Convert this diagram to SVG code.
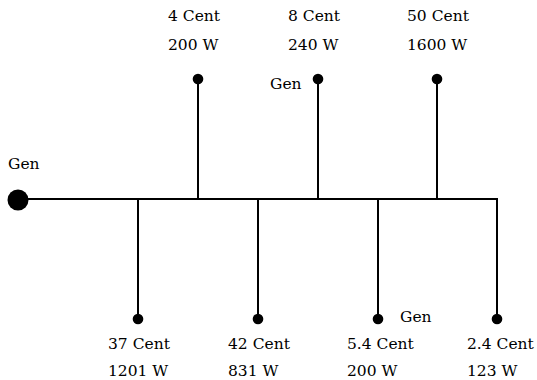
<svg xmlns="http://www.w3.org/2000/svg" width="537" height="380" viewBox="0 0 537 380">
  <style>
    .bus { stroke: #000; stroke-width: 2; fill: none; }
    .dot { fill: #000; }
    .lbl { font-family: "DejaVu Serif", "Liberation Serif", serif; font-size: 15.5px; fill: #000; }
  </style>
  <rect width="537" height="380" fill="#fff"/>

  <!-- bus bar and feeder lines -->
  <g id="connectors">
    <line class="bus" x1="18" y1="199" x2="498" y2="199"/>
    <line class="bus" x1="198" y1="199" x2="198" y2="79"/>
    <line class="bus" x1="318" y1="199" x2="318" y2="79"/>
    <line class="bus" x1="437" y1="199" x2="437" y2="79"/>
    <line class="bus" x1="138" y1="199" x2="138" y2="319"/>
    <line class="bus" x1="258" y1="199" x2="258" y2="319"/>
    <line class="bus" x1="378" y1="199" x2="378" y2="319"/>
    <line class="bus" x1="497" y1="198" x2="497" y2="319"/>
  </g>

  <!-- main generator -->
  <g id="gen-main">
    <circle class="dot" cx="18" cy="200" r="10.5"/>
    <text class="lbl" x="8" y="169">Gen</text>
  </g>

  <!-- upper loads -->
  <g id="load-4">
    <circle class="dot" cx="198" cy="79" r="5.3"/>
    <text class="lbl" x="168" y="21">4 Cent</text>
    <text class="lbl" x="168" y="50">200 W</text>
  </g>
  <g id="load-8">
    <circle class="dot" cx="318" cy="79" r="5.3"/>
    <text class="lbl" x="288" y="21">8 Cent</text>
    <text class="lbl" x="288" y="50">240 W</text>
    <text class="lbl" x="270" y="89">Gen</text>
  </g>
  <g id="load-50">
    <circle class="dot" cx="437" cy="79" r="5.3"/>
    <text class="lbl" x="407" y="21">50 Cent</text>
    <text class="lbl" x="407" y="50">1600 W</text>
  </g>

  <!-- lower loads -->
  <g id="load-37">
    <circle class="dot" cx="138" cy="319" r="5.3"/>
    <text class="lbl" x="108" y="349">37 Cent</text>
    <text class="lbl" x="108" y="376">1201 W</text>
  </g>
  <g id="load-42">
    <circle class="dot" cx="258" cy="319" r="5.3"/>
    <text class="lbl" x="228" y="349">42 Cent</text>
    <text class="lbl" x="228" y="376">831 W</text>
  </g>
  <g id="load-5-4">
    <circle class="dot" cx="378" cy="319" r="5.3"/>
    <text class="lbl" x="347" y="349">5.4 Cent</text>
    <text class="lbl" x="347" y="376">200 W</text>
    <text class="lbl" x="400" y="322">Gen</text>
  </g>
  <g id="load-2-4">
    <circle class="dot" cx="497" cy="319" r="5.3"/>
    <text class="lbl" x="467" y="349">2.4 Cent</text>
    <text class="lbl" x="467" y="376">123 W</text>
  </g>
</svg>
